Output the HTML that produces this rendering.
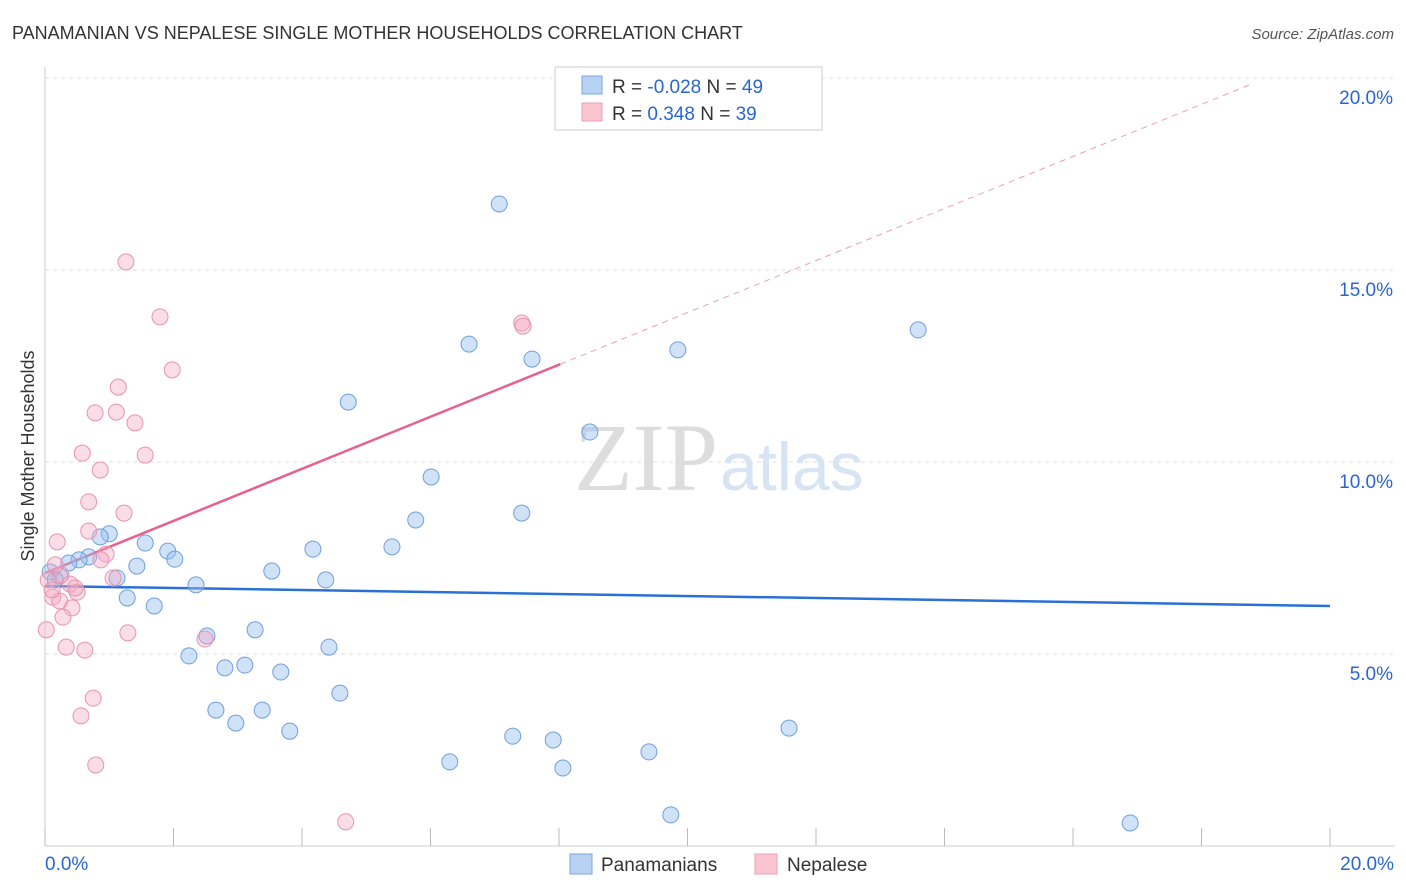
<!DOCTYPE html>
<html><head><meta charset="utf-8"><style>
body{margin:0;background:#fff;font-family:"Liberation Sans",sans-serif;}
svg{display:block}
</style></head><body>
<svg id="chart" width="1406" height="892">
<text x="12" y="39" font-size="18" fill="#333">PANAMANIAN VS NEPALESE SINGLE MOTHER HOUSEHOLDS CORRELATION CHART</text>
<text x="1394" y="39" font-size="15" fill="#555" font-style="italic" text-anchor="end">Source: ZipAtlas.com</text>
<text x="0" y="0" transform="translate(34,456) rotate(-90)" font-size="18" fill="#333" text-anchor="middle">Single Mother Households</text>
<g id="grid"></g>
<text x="718" y="490" font-size="96" font-family="Liberation Serif,serif" fill="#ddd" text-anchor="end">ZIP</text>
<text x="720" y="490" font-size="68" fill="#d6e4f4">atlas</text>
<g id="lines"></g>
<g id="points"></g>
<g>
<rect x="555" y="67" width="267" height="63" fill="#fff" stroke="#ccc"/>
<rect x="582" y="76" width="20" height="18" fill="#b8d2f4" stroke="#7aa6e0"/>
<rect x="582" y="103" width="20" height="18" fill="#f8c4d2" stroke="#eba0b8"/>
<text x="612" y="93" font-size="19" fill="#333">R = <tspan fill="#2a66d0">-0.028</tspan>   N = <tspan fill="#2a66d0">49</tspan></text>
<text x="612" y="120" font-size="19" fill="#333">R =   <tspan fill="#2a66d0">0.348</tspan>   N = <tspan fill="#2a66d0">39</tspan></text>
</g>
<g>
<rect x="570" y="854" width="22" height="20" fill="#b8d2f4" stroke="#7aa6e0"/>
<text x="601" y="871" font-size="19" fill="#333">Panamanians</text>
<rect x="755" y="854" width="22" height="20" fill="#f8c4d2" stroke="#eba0b8"/>
<text x="787" y="871" font-size="19" fill="#333">Nepalese</text>
</g>
</svg>
<script>
const yTicks=[5,10,15,20];
const yTickLabels=["5.0%","10.0%","15.0%","20.0%"];
const xTickLabels=["0.0%","20.0%"];
const blueX=[7.07,6.60,7.58,9.85,13.59,4.72,8.48,6.01,5.77,7.42,5.40,4.17,4.37,3.53,1.56,1.91,2.02,1.00,0.86,0.68,0.53,0.37,1.43,1.12,0.23,0.08,0.16,2.35,1.28,1.70,2.52,3.27,2.24,4.42,2.80,3.11,3.67,4.59,2.66,3.38,2.97,3.81,7.28,7.91,11.58,9.40,6.30,8.06,9.74,16.89];
const blueY=[16.72,13.07,12.68,12.92,13.44,11.56,10.78,9.61,8.49,8.67,7.79,7.73,6.93,7.16,7.89,7.68,7.47,8.13,8.05,7.53,7.45,7.37,7.29,6.98,7.03,7.14,6.93,6.80,6.46,6.25,5.47,5.63,4.95,5.18,4.64,4.71,4.53,3.98,3.54,3.54,3.20,2.99,2.86,2.76,3.07,2.45,2.19,2.03,0.81,0.60];
const pinkX=[1.26,1.79,1.98,1.14,0.78,1.11,1.40,0.58,1.56,0.86,0.68,1.23,0.19,0.68,0.95,0.87,0.25,1.06,0.05,0.39,0.50,0.12,0.23,0.42,0.28,0.02,1.29,2.49,0.33,0.62,0.75,0.56,0.79,4.68,7.42,7.44,0.16,0.11,0.47];
const pinkY=[15.21,13.78,12.40,11.95,11.28,11.30,11.02,10.23,10.18,9.79,8.96,8.67,7.92,8.20,7.60,7.45,7.06,6.98,6.93,6.82,6.61,6.48,6.38,6.20,5.96,5.63,5.55,5.39,5.18,5.10,3.85,3.39,2.11,0.63,13.62,13.54,7.32,6.67,6.72];
const blueTrend=[6.77,6.25]; // value at x=0 and x=20
const pinkTrend=[7.11,0.678]; // intercept, slope
const NS="http://www.w3.org/2000/svg";
const X0=45,X1=1330,Y0=846,Y20=78;
const sx=v=>X0+(X1-X0)*v/20;
const sy=v=>Y0-(Y0-Y20)*v/20;
function mk(tag,attrs,parent){const e=document.createElementNS(NS,tag);for(const k in attrs)e.setAttribute(k,attrs[k]);parent.appendChild(e);return e;}
const grid=document.getElementById('grid');
let ax=mk('line',{x1:X0,y1:67,x2:X0,y2:Y0,stroke:'#ccc'},grid);


let bx=mk('line',{x1:X0,y1:Y0,x2:1395,y2:Y0,stroke:'#ccc'},grid);


yTicks.forEach((t,i)=>{
  const g=mk('line',{x1:X0,y1:sy(t),x2:1395,y2:sy(t),stroke:'#ddd','stroke-dasharray':'4,4'},grid);
  
  
  const l=mk('text',{x:1393,y:sy(t)+26,'font-size':19,fill:'#2a66d0','text-anchor':'end'},grid);
  l.textContent=yTickLabels[i];
  
  
});
for(let i=0;i<=10;i++){
  const t=mk('line',{x1:sx(i*2),y1:828,x2:sx(i*2),y2:Y0,stroke:'#bbb'},grid);
  
  
}
[[0,'start',45],[20,'end',1394]].forEach((d,i)=>{
  const l=mk('text',{x:d[2],y:870,'font-size':19,fill:'#2a66d0','text-anchor':d[1]},grid);
  l.textContent=xTickLabels[i];
  
  
});
const lines=document.getElementById('lines');
const pts=document.getElementById('points');
blueX.forEach((x,i)=>{
  const c=mk('circle',{cx:sx(x),cy:sy(blueY[i]),r:8,fill:'rgba(150,190,240,0.45)',stroke:'#6f9fdc','stroke-width':1},pts);
  
  
});
pinkX.forEach((x,i)=>{
  const c=mk('circle',{cx:sx(x),cy:sy(pinkY[i]),r:8,fill:'rgba(245,170,195,0.4)',stroke:'#e893ae','stroke-width':1},pts);
  
  
});
const pf=x=>pinkTrend[0]+pinkTrend[1]*x;
const pd=mk('line',{x1:sx(8.02),y1:sy(pf(8.02)),x2:sx(18.75),y2:sy(pf(18.75)),stroke:'#e8a0b8','stroke-dasharray':'6,5'},lines);


const ps=mk('line',{x1:sx(0),y1:sy(pf(0)),x2:sx(8.02),y2:sy(pf(8.02)),stroke:'#e8608e','stroke-width':2.5},lines);


const bl=mk('line',{x1:sx(0),y1:sy(blueTrend[0]),x2:sx(20),y2:sy(blueTrend[1]),stroke:'#2a70d6','stroke-width':2.5},lines);


</script>
</body></html>
